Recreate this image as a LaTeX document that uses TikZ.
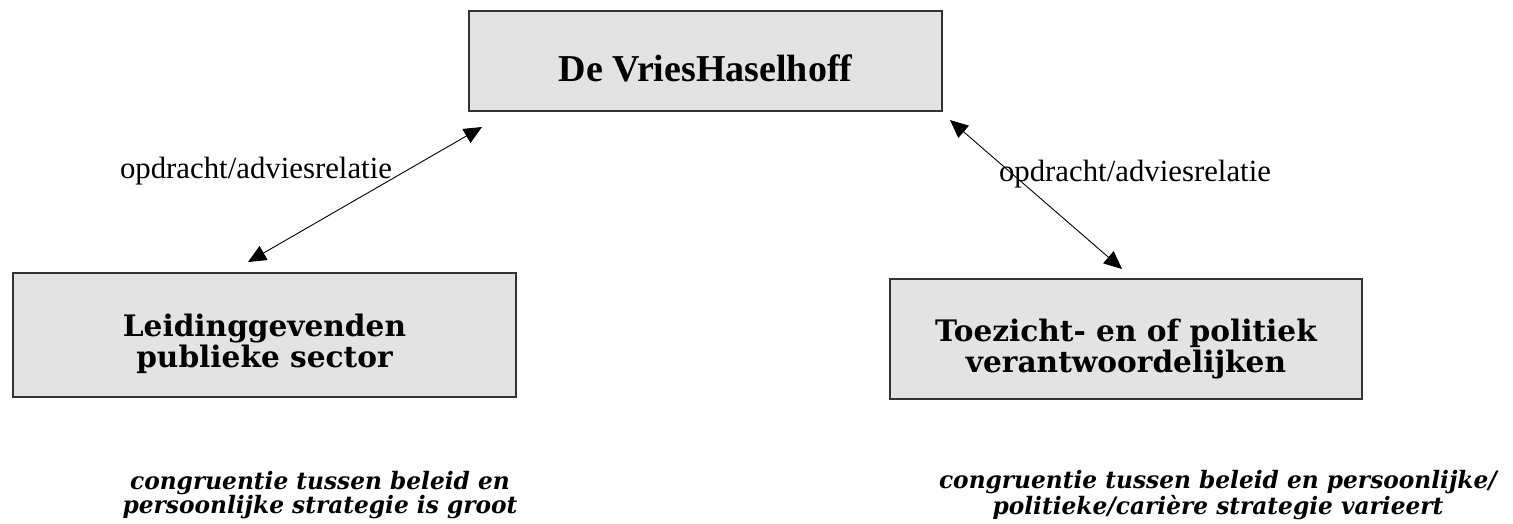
\documentclass[tikz,border=0pt]{standalone}
\usepackage{fontspec}
\setmainfont{Liberation Serif}
\newfontfamily\dvs{DejaVu Serif}
\newfontfamily\dvsc{DejaVu Serif}[FakeStretch=0.97]
\usetikzlibrary{arrows.meta}
\definecolor{boxfill}{HTML}{E3E3E3}
\definecolor{boxline}{HTML}{333333}
\tikzset{
  boxshape/.style={draw=boxline, line width=1.3pt, fill=boxfill, inner sep=0pt},
  boxtext/.style={align=center, inner sep=0pt, font={\dvs\bfseries\fontsize{29.6}{31.5}\selectfont}},
  toptext/.style={align=center, inner sep=0pt, font={\bfseries\fontsize{38}{44}\selectfont}},
  reltext/.style={inner sep=0pt, anchor=base, font={\fontsize{30.8}{34}\selectfont}},
  bottext/.style={align=center, inner sep=0pt, font={\dvsc\bfseries\itshape\fontsize{24}{24}\selectfont}},
  relarrow/.style={line width=0.9pt, {Triangle[length=18pt,width=16pt]}-{Triangle[length=18pt,width=16pt]}}
}
\begin{document}
\begin{tikzpicture}[x=1pt,y=-1pt]
\useasboundingbox (0,0) rectangle (1513,523);
% boxes
\node[boxshape, minimum width=473pt, minimum height=100pt] (top) at (705.5,61) {};
\node[boxshape, minimum width=503pt, minimum height=124pt] (left) at (264.5,335) {};
\node[boxshape, minimum width=472pt, minimum height=120pt] (right) at (1126,339) {};
% box texts
\node[toptext] (toptxt) at (705.5,68.5) {De VriesHaselhoff};
\node[boxtext] (lefttxt) at (264.5,343.7) {Leidinggevenden\\publieke sector};
\node[boxtext] (righttxt) at (1126,349) {Toezicht- en of politiek\\verantwoordelijken};
% arrow end points
\coordinate (la) at (482,127);
\coordinate (lb) at (248,262);
\coordinate (ra) at (950,120);
\coordinate (rb) at (1122,269);
\draw[relarrow] (lb) -- (la);
\draw[relarrow] (ra) -- (rb);
% relation labels
\node[reltext] (llab) at (256,178) {opdracht/adviesrelatie};
\node[reltext] (rlab) at (1135,181) {opdracht/adviesrelatie};
% bottom texts
\node[bottext] (lbot) at (320,495) {congruentie tussen beleid en\\persoonlijke strategie is groot};
\node[bottext] (rbot) at (1218,495) {congruentie tussen beleid en persoonlijke/\\politieke/carière strategie varieert};
\end{tikzpicture}
\end{document}
